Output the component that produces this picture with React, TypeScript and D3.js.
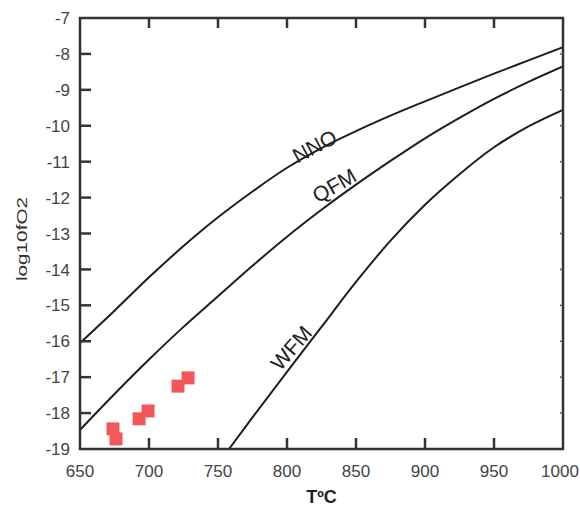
import React from "react";
import * as d3 from "d3";

const W = 580;
const H = 507;

const xTicks = [650, 700, 750, 800, 850, 900, 950, 1000];
const yTicks = [-7, -8, -9, -10, -11, -12, -13, -14, -15, -16, -17, -18, -19];

const nnoT = [650, 675, 700, 725, 750, 775, 800, 825, 850, 875, 900, 925, 950, 975, 1000];
const nnoF = [-16.05, -15.15, -14.22, -13.35, -12.55, -11.83, -11.17, -10.62, -10.15, -9.72, -9.32, -8.93, -8.55, -8.18, -7.81];

const qfmT = [650, 675, 700, 725, 750, 775, 800, 825, 850, 875, 900, 925, 950, 975, 1000];
const qfmF = [-18.47, -17.47, -16.51, -15.6, -14.75, -13.9, -13.09, -12.34, -11.64, -10.98, -10.35, -9.78, -9.25, -8.78, -8.35];

const wfmT = [758, 775, 800, 825, 850, 875, 900, 925, 950, 975, 1000];
const wfmF = [-19.0, -18.12, -16.85, -15.6, -14.35, -13.2, -12.2, -11.35, -10.6, -10.02, -9.56];

const sampleT = [673.9, 676.1, 692.8, 699.3, 721, 728.3];
const sampleF = [-18.44, -18.72, -18.16, -17.94, -17.25, -17.02];

const curveLabels = [
  { text: "NNO", t: 822.5, f: -10.75, angle: -28 },
  { text: "QFM", t: 837, f: -11.84, angle: -30 },
  { text: "WFM", t: 807, f: -16.32, angle: -49 },
];

export default function App() {
  const left = 80, right = 563, top = 18, bottom = 449;
  const x = d3.scaleLinear().domain([650, 1000]).range([left, right]);
  const y = d3.scaleLinear().domain([-19, -7]).range([bottom, top]);
  const line = d3
    .line<[number, number]>()
    .x((d) => x(d[0]))
    .y((d) => y(d[1]))
    .curve(d3.curveMonotoneX);
  const mk = (ts: number[], fs: number[]) => ts.map((t, i) => [t, fs[i]] as [number, number]);
  const curves = [mk(nnoT, nnoF), mk(qfmT, qfmF), mk(wfmT, wfmF)];
  const font = "'Liberation Sans', Arial, sans-serif";
  const sq = 13;
  return (
    <svg width={W} height={H} style={{ position: "absolute", left: 0, top: 0, background: "#fff" }}>
      <defs>
        <clipPath id="plot">
          <rect x={left} y={top} width={right - left} height={bottom - top} />
        </clipPath>
      </defs>
      <g clipPath="url(#plot)">
        {curves.map((c, i) => (
          <path key={i} d={line(c) || ""} fill="none" stroke="#1e1e1e" strokeWidth={2} />
        ))}
      </g>
      {sampleT.map((t, i) => (
        <rect key={i} x={x(t) - sq / 2} y={y(sampleF[i]) - sq / 2} width={sq} height={sq} fill="#f2575c" />
      ))}
      {curveLabels.map((l, i) => (
        <text
          key={i}
          transform={`translate(${x(l.t)},${y(l.f)}) rotate(${l.angle})`}
          textAnchor="middle"
          fontFamily={font}
          fontSize={21}
          fill="#222"
        >
          {l.text}
        </text>
      ))}
      <rect x={left} y={top} width={right - left} height={bottom - top} fill="none" stroke="#333" strokeWidth={2.5} />
      {yTicks.map((v) => (
        <g key={v}>
          {v !== -7 && v !== -19 && (
            <line x1={left} x2={left + 11} y1={y(v)} y2={y(v)} stroke="#333" strokeWidth={2.5} />
          )}
          {v !== -7 && v !== -19 && (
            <line x1={right - 3} x2={right} y1={y(v)} y2={y(v)} stroke="#555" strokeWidth={1.5} />
          )}
          <text x={70} y={y(v)} dy="0.36em" textAnchor="end" fontFamily={font} fontSize={17} fill="#444">
            {v}
          </text>
        </g>
      ))}
      {xTicks.map((v) => (
        <g key={v}>
          {v !== 650 && v !== 1000 && (
            <>
              <line x1={x(v)} x2={x(v)} y1={bottom} y2={bottom - 11} stroke="#333" strokeWidth={2.5} />
              <line x1={x(v)} x2={x(v)} y1={top} y2={top + 10} stroke="#333" strokeWidth={2.5} />
            </>
          )}
          <text
            x={v === 1000 ? x(v) - 3 : x(v)}
            y={477}
            textAnchor="middle"
            fontFamily={font}
            fontSize={17}
            fill="#444"
          >
            {v}
          </text>
        </g>
      ))}
      <text
        transform={`translate(27,239) rotate(-90)`}
        textAnchor="middle"
        fontFamily={font}
        fontSize={15}
        fill="#333"
        textLength={84}
        lengthAdjust="spacingAndGlyphs"
      >
        log10fO2
      </text>
      <text x={(left + right) / 2} y={503} textAnchor="middle" fontFamily={font} fontSize={18} fontWeight="bold" fill="#222">
        TºC
      </text>
    </svg>
  );
}
